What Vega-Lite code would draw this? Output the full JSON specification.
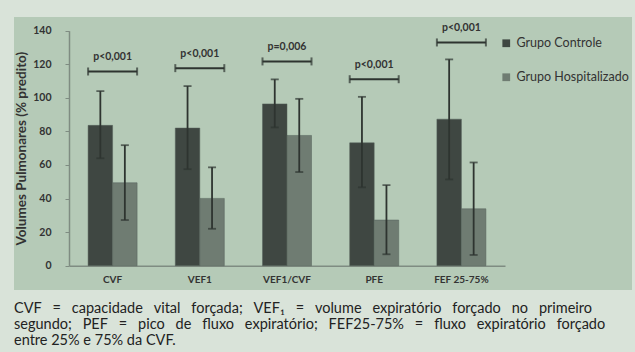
{
  "$schema": "https://vega.github.io/schema/vega-lite/v6.json",
  "width": 618,
  "height": 273,
  "autosize": {"type": "none"},
  "padding": {"left": 14, "top": 17, "right": 3, "bottom": 62},
  "background": "#d9e3d9",
  "view": {"fill": "#b5cab7", "stroke": null},
  "config": {
    "font": "Lato",
    "axis": {"labelFont": "Lato", "titleFont": "Lato"},
    "axisY": {
      "tickCount": 8,
      "labelOverlap": false,
      "labelFlush": false,
      "labelFontSize": 10.5,
      "labelFontWeight": "bold",
      "labelColor": "#333333",
      "labelPadding": 14,
      "tickSize": 4,
      "tickColor": "#7f8c82",
      "domainColor": "#7f8c82",
      "domainWidth": 1.5,
      "grid": false,
      "offset": -55,
      "titleFontSize": 13.5,
      "titleFontWeight": "bold",
      "titleColor": "#333333",
      "titlePadding": 4
    }
  },
  "title": {
    "text": [
      "CVF\u2003=\u2003capacidade\u2003vital\u2003forçada;\u2003VEF₁\u2003=\u2003volume\u2003expiratório\u2003forçado\u2003no\u2003primeiro",
      "segundo;\u2003PEF\u2003=\u2003pico\u2003de\u2003fluxo\u2003expiratório;\u2003FEF25-75%\u2003=\u2003fluxo\u2003expiratório\u2003forçado",
      "entre 25% e 75% da CVF."
    ],
    "orient": "bottom",
    "anchor": "start",
    "align": "left",
    "font": "Lato",
    "fontSize": 14.5,
    "fontWeight": "normal",
    "color": "#222222",
    "lineHeight": 16,
    "offset": 12
  },
  "datasets": {
    "bars": [
      {"cat": "CVF", "group": "Grupo Controle", "value": 83.6, "lo": 64, "hi": 104},
      {"cat": "CVF", "group": "Grupo Hospitalizado", "value": 49.4, "lo": 27.2, "hi": 71.8},
      {"cat": "VEF1", "group": "Grupo Controle", "value": 82, "lo": 57.5, "hi": 107},
      {"cat": "VEF1", "group": "Grupo Hospitalizado", "value": 40.1, "lo": 22, "hi": 58.6},
      {"cat": "VEF1/CVF", "group": "Grupo Controle", "value": 96.4, "lo": 82.4, "hi": 111},
      {"cat": "VEF1/CVF", "group": "Grupo Hospitalizado", "value": 77.6, "lo": 55.8, "hi": 99.4},
      {"cat": "PFE", "group": "Grupo Controle", "value": 73.2, "lo": 46.7, "hi": 100.6},
      {"cat": "PFE", "group": "Grupo Hospitalizado", "value": 27.2, "lo": 6.8, "hi": 48},
      {"cat": "FEF 25-75%", "group": "Grupo Controle", "value": 87.3, "lo": 51.4, "hi": 122.9},
      {"cat": "FEF 25-75%", "group": "Grupo Hospitalizado", "value": 33.9, "lo": 6.4, "hi": 61.5}
    ],
    "sig": [
      {"cat": "CVF", "level": 115.7, "label": "p<0,001"},
      {"cat": "VEF1", "level": 117.7, "label": "p<0,001"},
      {"cat": "VEF1/CVF", "level": 121.7, "label": "p=0,006"},
      {"cat": "PFE", "level": 111.1, "label": "p<0,001"},
      {"cat": "FEF 25-75%", "level": 133, "label": "p<0,001"}
    ]
  },
  "encoding": {
    "x": {
      "field": "cat",
      "type": "nominal",
      "sort": ["CVF", "VEF1", "VEF1/CVF", "PFE", "FEF 25-75%"],
      "scale": {
        "domain": ["CVF", "VEF1", "VEF1/CVF", "PFE", "FEF 25-75%"],
        "range": [55, 491],
        "paddingInner": 0.438,
        "paddingOuter": 0.219
      },
      "axis": {
        "title": null,
        "labelAngle": 0,
        "labelFontSize": 10,
        "labelFontWeight": "bold",
        "labelColor": "#333333",
        "labelPadding": 9,
        "ticks": false,
        "domainColor": "#7f8c82",
        "domainWidth": 1.5,
        "offset": -24.3
      }
    }
  },
  "layer": [
    {
      "data": {"name": "bars"},
      "mark": {"type": "bar", "stroke": "#55605a", "strokeWidth": 0.5},
      "encoding": {
        "xOffset": {"field": "group", "type": "nominal", "scale": {"paddingInner": 0, "paddingOuter": 0}},
        "y": {
          "field": "value",
          "type": "quantitative",
          "scale": {"domain": [0, 140], "range": [248.7, 13.7], "nice": false},
          "axis": {"title": "Volumes Pulmonares (% predito)"}
        },
        "color": {
          "field": "group",
          "type": "nominal",
          "scale": {"domain": ["Grupo Controle", "Grupo Hospitalizado"], "range": ["#3f4742", "#6f7c72"]},
          "legend": {
            "title": null,
            "orient": "none",
            "legendX": 486,
            "legendY": 20,
            "symbolType": "square",
            "symbolSize": 60,
            "symbolStrokeWidth": 0,
            "labelFont": "Lato",
            "labelFontSize": 12.5,
            "labelColor": "#333333",
            "rowPadding": 21,
            "labelOffset": 4
          }
        }
      }
    },
    {
      "data": {"name": "bars"},
      "mark": {"type": "rule", "color": "#2e3430", "strokeWidth": 1.8},
      "encoding": {
        "xOffset": {"field": "group", "type": "nominal"},
        "y": {"field": "lo", "type": "quantitative"},
        "y2": {"field": "hi"}
      }
    },
    {
      "data": {"name": "bars"},
      "mark": {"type": "tick", "color": "#2e3430", "thickness": 1.8, "size": 8, "orient": "horizontal"},
      "encoding": {
        "xOffset": {"field": "group", "type": "nominal"},
        "y": {"field": "lo", "type": "quantitative"}
      }
    },
    {
      "data": {"name": "bars"},
      "mark": {"type": "tick", "color": "#2e3430", "thickness": 1.8, "size": 8, "orient": "horizontal"},
      "encoding": {
        "xOffset": {"field": "group", "type": "nominal"},
        "y": {"field": "hi", "type": "quantitative"}
      }
    },
    {
      "data": {"name": "sig"},
      "mark": {"type": "rule", "color": "#2e3430", "strokeWidth": 2},
      "encoding": {
        "x": {"field": "cat", "type": "nominal", "bandPosition": 0},
        "x2": {"field": "cat", "bandPosition": 1},
        "y": {"field": "level", "type": "quantitative"}
      }
    },
    {
      "data": {"name": "sig"},
      "mark": {"type": "tick", "color": "#2e3430", "thickness": 2, "size": 8, "orient": "vertical"},
      "encoding": {
        "x": {"field": "cat", "type": "nominal", "bandPosition": 0},
        "y": {"field": "level", "type": "quantitative"}
      }
    },
    {
      "data": {"name": "sig"},
      "mark": {"type": "tick", "color": "#2e3430", "thickness": 2, "size": 8, "orient": "vertical"},
      "encoding": {
        "x": {"field": "cat", "type": "nominal", "bandPosition": 1},
        "y": {"field": "level", "type": "quantitative"}
      }
    },
    {
      "data": {"name": "sig"},
      "mark": {"type": "text", "font": "Lato", "fontSize": 10.5, "fontWeight": "bold", "color": "#333333", "baseline": "middle", "dy": -14},
      "encoding": {
        "x": {"field": "cat", "type": "nominal", "bandPosition": 0.5},
        "y": {"field": "level", "type": "quantitative"},
        "text": {"field": "label"}
      }
    }
  ]
}
